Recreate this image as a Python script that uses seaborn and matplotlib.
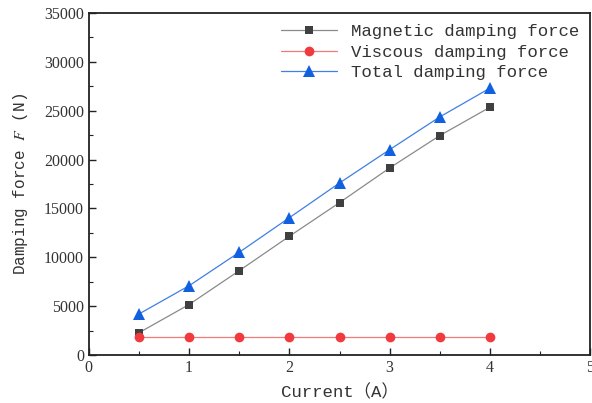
import matplotlib
matplotlib.use("Agg")
import matplotlib.pyplot as plt
import seaborn as sns
import pandas as pd
from matplotlib.ticker import MultipleLocator

current = [0.5, 1.0, 1.5, 2.0, 2.5, 3.0, 3.5, 4.0]
magnetic = [2280, 5170, 8630, 12150, 15590, 19140, 22450, 25350]
viscous = [1880, 1880, 1880, 1880, 1880, 1880, 1880, 1880]
total = [4200, 7090, 10510, 14050, 17600, 21010, 24360, 27300]
series_names = ["Magnetic damping force", "Viscous damping force", "Total damping force"]

sns.set_style("ticks")
plt.rcParams['font.family'] = ['Liberation Serif', 'Noto Sans CJK SC', 'DejaVu Sans']
plt.rcParams['mathtext.fontset'] = 'stix'

fig = plt.figure(figsize=(5.92, 4.03), dpi=100)
ax = fig.add_axes([0.150, 0.119, 0.847, 0.849])

styles = [
    dict(line="#8a8a8a", mk="#404040", marker="s", ms=6),
    dict(line="#f07a7c", mk="#f03a3e", marker="o", ms=7),
    dict(line="#3f7fe6", mk="#1060e0", marker="^", ms=8),
]
for name, vals, st in zip(series_names, [magnetic, viscous, total], styles):
    df = pd.DataFrame({"x": current, "y": vals})
    sns.lineplot(data=df, x="x", y="y", ax=ax, color=st["line"], lw=0.9,
                 marker=st["marker"], markersize=st["ms"], markerfacecolor=st["mk"],
                 markeredgecolor=st["mk"], markeredgewidth=0, label=name)

ax.set_xlim(0, 5)
ax.set_ylim(0, 35000)
ax.xaxis.set_major_locator(MultipleLocator(1))
ax.xaxis.set_minor_locator(MultipleLocator(0.5))
ax.yaxis.set_major_locator(MultipleLocator(5000))
ax.yaxis.set_minor_locator(MultipleLocator(2500))
ax.tick_params(which='both', direction='in', colors='#222222', labelcolor='#333333', labelsize=11.5)
ax.tick_params(which='major', length=5, width=1)
ax.tick_params(which='minor', length=3, width=0.8)
for s in ax.spines.values():
    s.set_visible(True)
    s.set_linewidth(1.3)
    s.set_color('#222222')

lab_font = ['Liberation Mono', 'Noto Sans CJK SC', 'DejaVu Sans']
ax.set_xlabel("Current（A）", family=lab_font, fontsize=12.5, color='#333333', labelpad=6)
ax.set_ylabel("Damping force $F$ (N)", family=lab_font, fontsize=11.5, color='#333333', labelpad=10)

leg = ax.legend(loc='upper right', frameon=False, prop={'family': lab_font, 'size': 12.5},
                handlelength=3.2, borderaxespad=0.25, labelspacing=0.3, handletextpad=0.8)
for t in leg.get_texts():
    t.set_color('#333333')

fig.savefig("out.png", dpi=100)
